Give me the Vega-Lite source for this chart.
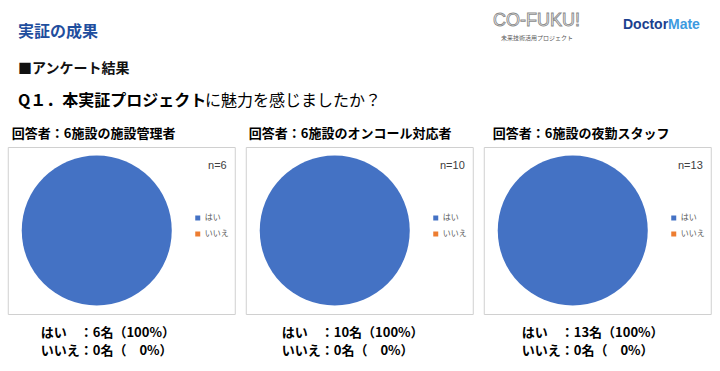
{
  "$schema": "https://vega.github.io/schema/vega-lite/v6.json",
  "padding": 0,
  "background": "white",
  "config": {
    "font": "Noto Sans CJK JP",
    "view": {"stroke": "#d0d0d0", "strokeWidth": 1},
    "title": {"font": "Noto Sans CJK JP"}
  },
  "datasets": {
    "answers": [
      {"panel": "facility", "answer": "はい", "count": 6},
      {"panel": "facility", "answer": "いいえ", "count": 0},
      {"panel": "oncall", "answer": "はい", "count": 10},
      {"panel": "oncall", "answer": "いいえ", "count": 0},
      {"panel": "night", "answer": "はい", "count": 13},
      {"panel": "night", "answer": "いいえ", "count": 0}
    ],
    "notes": [
      {"panel": "facility", "n": "n=6", "summary": "はい　：6名（100%）\nいいえ：0名（　0%）"},
      {"panel": "oncall", "n": "n=10", "summary": "はい　：10名（100%）\nいいえ：0名（　0%）"},
      {"panel": "night", "n": "n=13", "summary": "はい　：13名（100%）\nいいえ：0名（　0%）"}
    ],
    "one": [{}]
  },
  "spacing": 0,
  "center": true,
  "vconcat": [
    {
      "width": 717,
      "height": 126,
      "view": {"stroke": null},
      "data": {"name": "one"},
      "layer": [
        {"mark": {"type": "text", "text": "実証の成果", "x": 17, "y": 31, "align": "left", "baseline": "middle", "fontSize": 16, "fontWeight": "bold", "color": "#1f4e9e"}, "encoding": {}},
        {"mark": {"type": "rule", "x": 15, "x2": 700, "y": 43.5, "color": "#dcdcdc", "strokeWidth": 1}, "encoding": {}},
        {"mark": {"type": "text", "text": "■アンケート結果", "x": 17, "y": 68, "align": "left", "baseline": "middle", "fontSize": 14, "fontWeight": "bold", "color": "#111111"}, "encoding": {}},
        {"mark": {"type": "text", "text": "Q１．本実証プロジェクト", "x": 17, "y": 100, "align": "left", "baseline": "middle", "fontSize": 16, "fontWeight": "bold", "color": "#000000"}, "encoding": {}},
        {"mark": {"type": "text", "text": "に魅力を感じましたか？", "x": 204, "y": 100, "align": "left", "baseline": "middle", "fontSize": 16, "fontWeight": "normal", "color": "#000000"}, "encoding": {}},
        {"mark": {"type": "text", "text": "CO-FUKU!", "x": 492, "y": 25, "align": "left", "baseline": "alphabetic", "font": "Liberation Sans", "fontSize": 18, "fill": "#ffffff", "stroke": "#8a8a8a", "strokeWidth": 0.9}, "encoding": {}},
        {"mark": {"type": "text", "text": "未来技術活用プロジェクト", "x": 500, "y": 39, "align": "left", "baseline": "alphabetic", "fontSize": 6, "color": "#595959"}, "encoding": {}},
        {"mark": {"type": "text", "text": "Doctor", "x": 622, "y": 28, "align": "left", "baseline": "alphabetic", "font": "Liberation Sans", "fontSize": 14, "fontWeight": "bold", "color": "#1b3f8f"}, "encoding": {}},
        {"mark": {"type": "text", "text": "Mate", "x": 667, "y": 28, "align": "left", "baseline": "alphabetic", "font": "Liberation Sans", "fontSize": 14, "fontWeight": "bold", "color": "#3d9ae0"}, "encoding": {}}
      ]
    },
    {
      "spacing": 9,
      "resolve": {"scale": {"color": "independent"}, "legend": {"color": "independent"}},
      "hconcat": [
        {
          "width": 227,
          "height": 167,
          "view": {"stroke": "#d0d0d0", "strokeWidth": 1},
          "title": {"text": "回答者：6施設の施設管理者", "anchor": "start", "fontSize": 13, "fontWeight": "bold", "color": "#000000", "offset": 6, "dx": 4},
          "layer": [
            {
              "data": {"name": "answers"},
              "transform": [{"filter": "datum.panel === 'facility'"}],
              "mark": {"type": "arc", "outerRadius": 75, "x": 89, "y": 83.5},
              "encoding": {
                "theta": {"field": "count", "type": "quantitative", "stack": true},
                "color": {"field": "answer", "type": "nominal", "scale": {"domain": ["はい", "いいえ"], "range": ["#4472c4", "#ed7d31"]},
                  "legend": {"orient": "none", "legendX": 186, "legendY": 67, "title": null, "symbolType": "square", "symbolSize": 25, "labelFontSize": 8, "labelColor": "#595959", "rowPadding": 8, "padding": 0, "labelOffset": 3, "symbolStrokeWidth": 0}}
              }
            },
            {
              "data": {"name": "notes"},
              "transform": [{"filter": "datum.panel === 'facility'"}],
              "mark": {"type": "text", "align": "right", "baseline": "alphabetic", "x": 219, "y": 22, "fontSize": 11, "color": "#404040", "font": "Liberation Sans"},
              "encoding": {"text": {"field": "n"}}
            },
            {
              "data": {"name": "notes"},
              "transform": [{"filter": "datum.panel === 'facility'"}],
              "mark": {"type": "text", "align": "left", "baseline": "top", "x": 33, "y": 180, "lineBreak": "\n", "lineHeight": 18, "fontSize": 13, "fontWeight": "bold", "color": "#000000"},
              "encoding": {"text": {"field": "summary"}}
            }
          ]
        },
        {
          "width": 227,
          "height": 167,
          "view": {"stroke": "#d0d0d0", "strokeWidth": 1},
          "title": {"text": "回答者：6施設のオンコール対応者", "anchor": "start", "fontSize": 13, "fontWeight": "bold", "color": "#000000", "offset": 6, "dx": 3},
          "layer": [
            {
              "data": {"name": "answers"},
              "transform": [{"filter": "datum.panel === 'oncall'"}],
              "mark": {"type": "arc", "outerRadius": 75, "x": 89, "y": 83.5},
              "encoding": {
                "theta": {"field": "count", "type": "quantitative", "stack": true},
                "color": {"field": "answer", "type": "nominal", "scale": {"domain": ["はい", "いいえ"], "range": ["#4472c4", "#ed7d31"]},
                  "legend": {"orient": "none", "legendX": 186, "legendY": 67, "title": null, "symbolType": "square", "symbolSize": 25, "labelFontSize": 8, "labelColor": "#595959", "rowPadding": 8, "padding": 0, "labelOffset": 3, "symbolStrokeWidth": 0}}
              }
            },
            {
              "data": {"name": "notes"},
              "transform": [{"filter": "datum.panel === 'oncall'"}],
              "mark": {"type": "text", "align": "right", "baseline": "alphabetic", "x": 219, "y": 22, "fontSize": 11, "color": "#404040", "font": "Liberation Sans"},
              "encoding": {"text": {"field": "n"}}
            },
            {
              "data": {"name": "notes"},
              "transform": [{"filter": "datum.panel === 'oncall'"}],
              "mark": {"type": "text", "align": "left", "baseline": "top", "x": 36, "y": 180, "lineBreak": "\n", "lineHeight": 18, "fontSize": 13, "fontWeight": "bold", "color": "#000000"},
              "encoding": {"text": {"field": "summary"}}
            }
          ]
        },
        {
          "width": 227,
          "height": 167,
          "view": {"stroke": "#d0d0d0", "strokeWidth": 1},
          "title": {"text": "回答者：6施設の夜勤スタッフ", "anchor": "start", "fontSize": 13, "fontWeight": "bold", "color": "#000000", "offset": 6, "dx": 9},
          "layer": [
            {
              "data": {"name": "answers"},
              "transform": [{"filter": "datum.panel === 'night'"}],
              "mark": {"type": "arc", "outerRadius": 75, "x": 89, "y": 83.5},
              "encoding": {
                "theta": {"field": "count", "type": "quantitative", "stack": true},
                "color": {"field": "answer", "type": "nominal", "scale": {"domain": ["はい", "いいえ"], "range": ["#4472c4", "#ed7d31"]},
                  "legend": {"orient": "none", "legendX": 186, "legendY": 67, "title": null, "symbolType": "square", "symbolSize": 25, "labelFontSize": 8, "labelColor": "#595959", "rowPadding": 8, "padding": 0, "labelOffset": 3, "symbolStrokeWidth": 0}}
              }
            },
            {
              "data": {"name": "notes"},
              "transform": [{"filter": "datum.panel === 'night'"}],
              "mark": {"type": "text", "align": "right", "baseline": "alphabetic", "x": 219, "y": 22, "fontSize": 11, "color": "#404040", "font": "Liberation Sans"},
              "encoding": {"text": {"field": "n"}}
            },
            {
              "data": {"name": "notes"},
              "transform": [{"filter": "datum.panel === 'night'"}],
              "mark": {"type": "text", "align": "left", "baseline": "top", "x": 38, "y": 180, "lineBreak": "\n", "lineHeight": 18, "fontSize": 13, "fontWeight": "bold", "color": "#000000"},
              "encoding": {"text": {"field": "summary"}}
            }
          ]
        }
      ]
    }
  ]
}
